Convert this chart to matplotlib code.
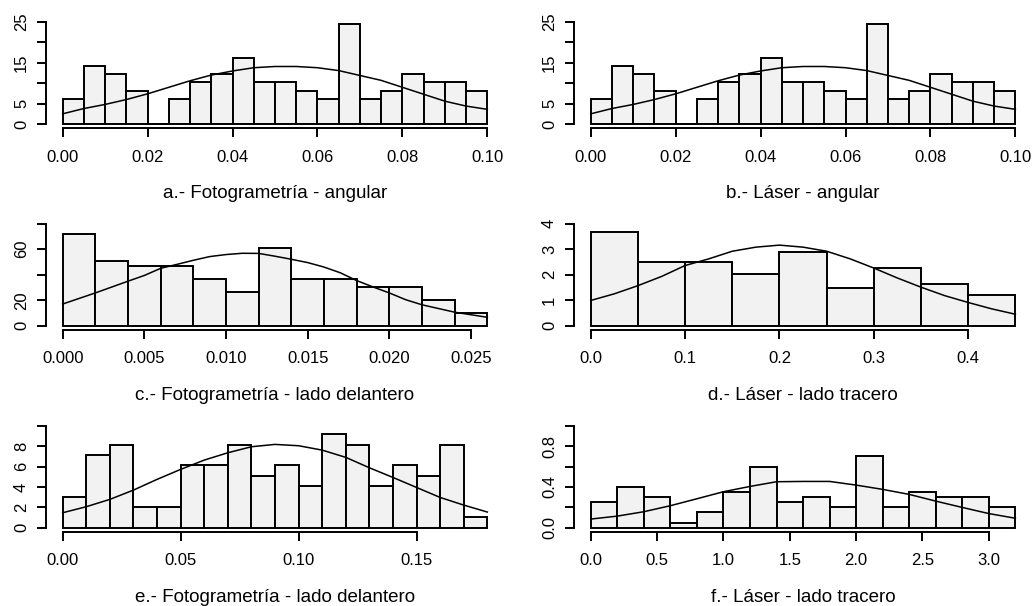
import matplotlib.pyplot as plt
import numpy as np

plt.rcParams['font.family'] = ['Liberation Sans', 'DejaVu Sans']

# a.- / b.- angular (same values in both panels)
ang_width = 0.005
ang_dens = [6.1, 14.3, 12.2, 8.2, 0.0, 6.1, 10.2, 12.2, 16.3, 10.2,
            10.2, 8.2, 6.1, 24.5, 6.1, 8.2, 12.2, 10.2, 10.2, 8.2]
ang_cx = [0.0, 0.005, 0.01, 0.015, 0.02, 0.025, 0.03, 0.035, 0.04, 0.045, 0.05,
          0.055, 0.06, 0.065, 0.07, 0.075, 0.08, 0.085, 0.09, 0.095, 0.1]
ang_cy = [2.5, 3.8, 4.8, 6.0, 7.4, 9.0, 10.6, 12.0, 13.0, 13.8, 14.1,
          14.1, 13.8, 13.1, 11.9, 10.7, 9.0, 7.3, 5.6, 4.4, 3.6]

# c.- fotogrametria lado delantero
fd_width = 0.002
fd_dens = [72, 51, 46.5, 46.5, 36.5, 26.5, 61, 36.5, 36.5, 30.5, 30.5, 20.5, 10]
fd_cx = [0.0, 0.002, 0.004, 0.005, 0.006, 0.007, 0.008, 0.009, 0.010, 0.011, 0.012,
         0.013, 0.014, 0.015, 0.016, 0.017, 0.018, 0.019, 0.020, 0.021, 0.022,
         0.024, 0.026]
fd_cy = [17.0, 25.7, 34.9, 39.4, 45.0, 48.1, 51.3, 54.2, 55.8, 56.8, 56.7,
         54.5, 52.1, 49.5, 46.0, 41.5, 35.4, 30.4, 25.7, 20.4, 16.4,
         10.6, 6.6]

# d.- laser lado tracero
lt_width = 0.05
lt_dens = [3.67, 2.49, 2.49, 2.03, 2.88, 1.46, 2.25, 1.62, 1.22]
lt_cx = [0.0, 0.025, 0.05, 0.075, 0.1, 0.125, 0.15, 0.175, 0.2, 0.225, 0.25,
         0.275, 0.3, 0.325, 0.35, 0.375, 0.4, 0.425, 0.45]
lt_cy = [0.99, 1.25, 1.57, 1.93, 2.36, 2.62, 2.92, 3.08, 3.16, 3.08, 2.92,
         2.62, 2.26, 1.87, 1.51, 1.18, 0.91, 0.66, 0.45]

# e.- fotogrametria lado delantero
fe_width = 0.01
fe_dens = [3.06, 7.14, 8.16, 2.04, 2.04, 6.12, 6.12, 8.16, 5.1, 6.12,
           4.08, 9.18, 8.16, 4.08, 6.12, 5.1, 8.16, 1.02]
fe_cx = [0.0, 0.01, 0.02, 0.03, 0.04, 0.05, 0.06, 0.07, 0.08, 0.09,
         0.10, 0.11, 0.12, 0.13, 0.14, 0.15, 0.16, 0.17, 0.18]
fe_cy = [1.47, 2.06, 2.78, 3.69, 4.74, 5.72, 6.63, 7.35, 7.94, 8.17,
         8.04, 7.61, 6.9, 5.88, 4.93, 3.95, 2.97, 2.22, 1.54]

# f.- laser lado tracero
lf_width = 0.2
lf_dens = [0.25, 0.4, 0.3, 0.05, 0.15, 0.35, 0.6, 0.25,
           0.3, 0.2, 0.7, 0.2, 0.35, 0.3, 0.3, 0.2]
lf_cx = [0.0, 0.2, 0.4, 0.6, 0.8, 1.0, 1.2, 1.4, 1.6, 1.8,
         2.0, 2.2, 2.4, 2.6, 2.8, 3.0, 3.2]
lf_cy = [0.085, 0.114, 0.157, 0.216, 0.284, 0.353, 0.405, 0.451, 0.454, 0.454,
         0.418, 0.376, 0.327, 0.261, 0.199, 0.139, 0.093]

panels = [
    (ang_width, ang_dens, ang_cx, ang_cy,
     [0, 0.02, 0.04, 0.06, 0.08, 0.10], ['0.00', '0.02', '0.04', '0.06', '0.08', '0.10'],
     [0, 5, 10, 15, 20, 25], ['0', '5', '', '15', '', '25'],
     'a.- Fotogrametría - angular'),
    (ang_width, ang_dens, ang_cx, ang_cy,
     [0, 0.02, 0.04, 0.06, 0.08, 0.10], ['0.00', '0.02', '0.04', '0.06', '0.08', '0.10'],
     [0, 5, 10, 15, 20, 25], ['0', '5', '', '15', '', '25'],
     'b.- Láser - angular'),
    (fd_width, fd_dens, fd_cx, fd_cy,
     [0, 0.005, 0.010, 0.015, 0.020, 0.025], ['0.000', '0.005', '0.010', '0.015', '0.020', '0.025'],
     [0, 20, 40, 60, 80], ['0', '20', '', '60', ''],
     'c.- Fotogrametría - lado delantero'),
    (lt_width, lt_dens, lt_cx, lt_cy,
     [0, 0.1, 0.2, 0.3, 0.4], ['0.0', '0.1', '0.2', '0.3', '0.4'],
     [0, 1, 2, 3, 4], ['0', '1', '2', '3', '4'],
     'd.- Láser - lado tracero'),
    (fe_width, fe_dens, fe_cx, fe_cy,
     [0, 0.05, 0.10, 0.15], ['0.00', '0.05', '0.10', '0.15'],
     [0, 2, 4, 6, 8, 10], ['0', '2', '4', '6', '8', ''],
     'e.- Fotogrametría - lado delantero'),
    (lf_width, lf_dens, lf_cx, lf_cy,
     [0, 0.5, 1.0, 1.5, 2.0, 2.5, 3.0], ['0.0', '0.5', '1.0', '1.5', '2.0', '2.5', '3.0'],
     [0, 0.2, 0.4, 0.6, 0.8, 1.0], ['0.0', '', '0.4', '', '0.8', ''],
     'f.- Láser - lado tracero'),
]

fig = plt.figure(figsize=(10.33, 6.06), dpi=100)
lefts = [0.0442, 0.5554]
bottoms = [0.7886, 0.4558, 0.1224]

for i, (w, dens, cx, cy, xt, xl, yt, yl, title) in enumerate(panels):
    ax = fig.add_axes([lefts[i % 2], bottoms[i // 2], 0.4440, 0.1818])
    left = np.arange(len(dens)) * w
    dens = np.array(dens, dtype=float)
    ax.bar(left, dens, width=w, align='edge', color='#f2f2f2',
           edgecolor='black', linewidth=1.4)
    # empty bins still show as a flat line, like R's hist
    empty = dens == 0
    if empty.any():
        ax.hlines(np.zeros(empty.sum()), left[empty], left[empty] + w,
                  color='black', lw=1.4)
    ax.plot(cx, cy, color='black', lw=1.1)
    xmax = len(dens) * w
    ytop = yt[-1]
    ax.set_xlim(-0.04 * xmax, 1.04 * xmax)
    ax.set_ylim(-0.04 * ytop, 1.04 * ytop)
    for s in ['top', 'right']:
        ax.spines[s].set_visible(False)
    ax.spines['left'].set_bounds(0, ytop)
    ax.spines['bottom'].set_bounds(0, xt[-1])
    ax.spines['left'].set_linewidth(1.4)
    ax.spines['bottom'].set_linewidth(1.4)
    ax.set_xticks(xt)
    ax.set_xticklabels(xl)
    ax.set_yticks(yt)
    ax.set_yticklabels(yl, rotation=90, va='center')
    ax.tick_params(direction='out', length=6.5, width=1.4, labelsize=12)
    ax.tick_params(axis='x', pad=9)
    ax.tick_params(axis='y', pad=5.5)
    ax.set_xlabel(title, fontsize=13.5, labelpad=15)
    ax.patch.set_alpha(0)

fig.savefig('out.png', dpi=100)
